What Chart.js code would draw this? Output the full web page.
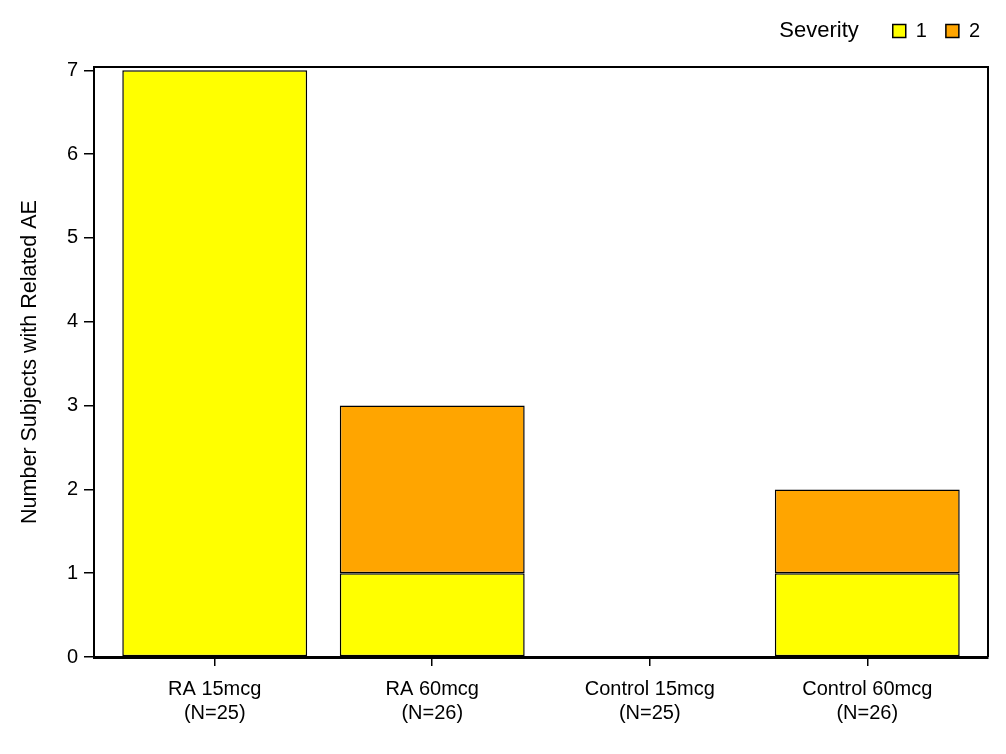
<!DOCTYPE html>
<html>
<head>
<meta charset="utf-8">
<script src="https://cdn.jsdelivr.net/npm/chart.js@4.4.0/dist/chart.umd.min.js"></script>
<style>
  html, body { margin: 0; padding: 0; background: #fff; }
  #wrap { width: 1006px; height: 754px; }
</style>
</head>
<body>
<div id="wrap"><canvas id="aeChart"></canvas></div>
<script>
// chart data
const groups = ['RA 15mcg', 'RA 60mcg', 'Control 15mcg', 'Control 60mcg'];
const groupN = ['(N=25)', '(N=26)', '(N=25)', '(N=26)'];
const severity1 = [7, 1, 0, 1];
const severity2 = [0, 2, 0, 1];
const yTicks = [0, 1, 2, 3, 4, 5, 6, 7];

const FONT = '"Liberation Sans", Arial, sans-serif';
let aeChart = null;

// legend box: taller so the plot starts lower, and nudged right/down
const legendPatch = {
    id: 'legendPatch',
    beforeLayout(chart) {
        const lg = chart.legend;
        if (lg && !lg._patched) {
            const origFit = lg.fit.bind(lg);
            lg.fit = function () {
                origFit();
                this.height = 67;
            };
            lg._patched = true;
        }
    },
    afterLayout(chart) {
        const lg = chart.legend;
        if (lg) {
            lg.left += 11;
            lg.right += 11;
            lg.top += 2;
            lg.bottom += 2;
        }
    }
};

// draws "Severity" left of the legend and the top/right frame lines
const extrasPlugin = {
    id: 'extras',
    afterDraw(chart) {
        const ctx = chart.ctx;
        const area = chart.chartArea;
        ctx.save();
        ctx.strokeStyle = '#000';
        ctx.lineWidth = 2;
        ctx.beginPath();
        ctx.moveTo(area.left, area.top);
        ctx.lineTo(area.right, area.top);
        ctx.lineTo(area.right, area.bottom);
        ctx.stroke();

        const lg = chart.legend;
        if (lg && lg.legendHitBoxes && lg.legendHitBoxes.length) {
            const hb = lg.legendHitBoxes[0];
            ctx.fillStyle = '#000';
            ctx.font = '22px ' + FONT;
            ctx.textAlign = 'right';
            ctx.textBaseline = 'middle';
            ctx.fillText('Severity', hb.left - 34, hb.top + hb.height / 2);
        }
        ctx.restore();
    }
};

function drawAeChart() {
    if (aeChart !== null) {
        aeChart.destroy();
    }
    const ctx = document.getElementById('aeChart').getContext('2d');
    aeChart = new Chart(ctx, {
        type: 'bar',
        data: {
            datasets: [
                {
                    label: '1',
                    data: severity1.map((v, i) => ({ x: i, y: v })),
                    backgroundColor: '#FFFF00',
                    borderColor: '#000',
                    borderWidth: 1.5,
                    borderSkipped: false,
                    barPercentage: 0.85,
                    categoryPercentage: 1
                },
                {
                    label: '2',
                    data: severity2.map((v, i) => ({ x: i, y: v })),
                    backgroundColor: '#FFA500',
                    borderColor: '#000',
                    borderWidth: 1.5,
                    borderSkipped: false,
                    barPercentage: 0.85,
                    categoryPercentage: 1
                }
            ]
        },
        options: {
            responsive: true,
            maintainAspectRatio: false,
            animation: false,
            layout: { padding: { left: 0, right: 18, top: 0, bottom: 0 } },
            plugins: {
                legend: {
                    position: 'top',
                    align: 'end',
                    labels: {
                        boxWidth: 13,
                        boxHeight: 13,
                        padding: 19,
                        color: '#000',
                        font: { family: FONT, size: 20 }
                    }
                },
                tooltip: { enabled: false }
            },
            scales: {
                x: {
                    type: 'linear',
                    stacked: true,
                    offset: false,
                    min: -0.555,
                    max: 3.555,
                    afterBuildTicks: (scale) => {
                        scale.ticks = groups.map((g, i) => ({ value: i }));
                    },
                    afterFit: (scale) => { scale.height = 97; },
                    grid: { offset: false, drawOnChartArea: false, tickLength: 9, color: '#000', lineWidth: 1.5 },
                    border: { color: '#000', width: 3 },
                    ticks: {
                        color: '#000',
                        padding: 11,
                        maxRotation: 0,
                        autoSkip: false,
                        font: { family: FONT, size: 20 },
                        callback: (value) => [groups[value], groupN[value]]
                    }
                },
                y: {
                    stacked: true,
                    min: 0,
                    max: 7.04,
                    afterBuildTicks: (scale) => {
                        scale.ticks = yTicks.map(v => ({ value: v }));
                    },
                    afterFit: (scale) => { scale.width = 94; },
                    grid: { drawOnChartArea: false, tickLength: 10, color: '#000', lineWidth: 1.5 },
                    border: { color: '#000', width: 2 },
                    title: {
                        display: true,
                        text: 'Number Subjects with Related AE',
                        color: '#000',
                        font: { family: FONT, size: 21.5 },
                        padding: { top: 17, bottom: 0 }
                    },
                    ticks: {
                        color: '#000',
                        padding: 6,
                        font: { family: FONT, size: 20 }
                    }
                }
            }
        },
        plugins: [legendPatch, extrasPlugin]
    });
}

drawAeChart();
</script>
</body>
</html>
